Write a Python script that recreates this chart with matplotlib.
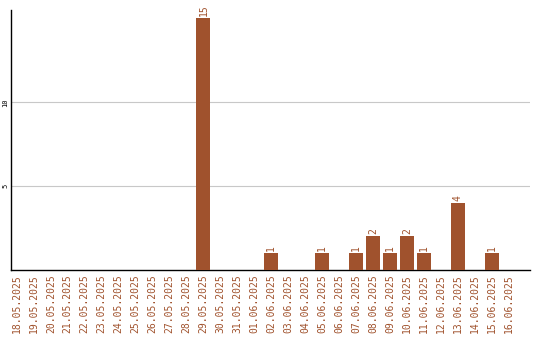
import matplotlib
matplotlib.use('Agg')
import matplotlib.pyplot as plt
import numpy as np

# daily counts 18.05.2025 - 16.06.2025
dates = ['18.05.2025', '19.05.2025', '20.05.2025', '21.05.2025', '22.05.2025',
         '23.05.2025', '24.05.2025', '25.05.2025', '26.05.2025', '27.05.2025',
         '28.05.2025', '29.05.2025', '30.05.2025', '31.05.2025', '01.06.2025',
         '02.06.2025', '03.06.2025', '04.06.2025', '05.06.2025', '06.06.2025',
         '07.06.2025', '08.06.2025', '09.06.2025', '10.06.2025', '11.06.2025',
         '12.06.2025', '13.06.2025', '14.06.2025', '15.06.2025', '16.06.2025']
counts = [0, 0, 0, 0, 0, 0, 0, 0, 0, 0,
          0, 15, 0, 0, 0, 1, 0, 0, 1, 0,
          1, 2, 1, 2, 1, 0, 4, 0, 1, 0]

bar_color = '#A0522D'
plt.rcParams['font.family'] = ['DejaVu Sans Mono']

fig = plt.figure(figsize=(5.4, 3.4), dpi=100)
ax = fig.add_axes([0.0204, 0.2059, 0.9606, 0.7647])

x = np.arange(len(dates))
ax.bar(x, counts, width=0.82, color=bar_color, zorder=3)

for xi, c in zip(x, counts):
    if c > 0:
        ax.text(xi, c + 0.12, str(c), rotation=90, ha='center', va='bottom',
                color=bar_color, fontsize=7)

ax.set_xlim(-0.35, 30.25)
ax.set_ylim(0, 15.5)
ax.set_yticks([5, 10])
ax.set_yticklabels(['5', '10'], rotation=90, va='center', fontsize=5)
ax.grid(axis='y', color='#c8c8c8', linewidth=0.8, zorder=0)
ax.set_xticks(x)
ax.set_xticklabels(dates, rotation=90, color=bar_color, fontsize=7)
ax.tick_params(axis='both', length=0, pad=3)
ax.tick_params(axis='y', pad=2)

for s in ['top', 'right']:
    ax.spines[s].set_visible(False)
ax.spines['left'].set_linewidth(1)
ax.spines['bottom'].set_linewidth(1)

fig.savefig('out.png', dpi=100)
